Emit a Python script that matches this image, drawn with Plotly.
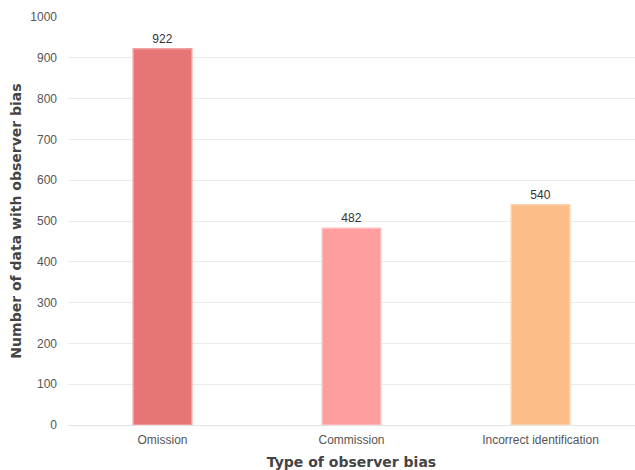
import plotly.graph_objects as go

categories = ["Omission", "Commission", "Incorrect identification"]
counts = [922, 482, 540]
bar_colors = ["#E87575", "#FF9E9E", "#FDBD89"]
edge_colors = ["#F4A0A0", "#FFC0C0", "#FDD3AE"]

fig = go.Figure(
    go.Bar(
        x=categories,
        y=counts,
        text=[str(v) for v in counts],
        textposition="outside",
        textfont=dict(family="Liberation Sans, Arial", size=12, color="#333333"),
        cliponaxis=False,
        marker=dict(color=bar_colors, line=dict(color=edge_colors, width=1.5)),
        hoverinfo="skip",
    )
)

fig.update_layout(
    width=635,
    height=470,
    margin=dict(l=68, r=0, t=17, b=45),
    paper_bgcolor="white",
    plot_bgcolor="white",
    bargap=0.69,
    showlegend=False,
    font=dict(family="Liberation Sans, Arial", size=12, color="#555555"),
)

fig.update_xaxes(
    showgrid=False,
    showline=False,
    ticks="",
    ticklabelstandoff=6,
    tickfont=dict(size=12, color="#555555"),
    title=dict(
        text="<b>Type of observer bias</b>",
        font=dict(family="DejaVu Sans", size=14, color="#444444"),
        standoff=12,
    ),
)

fig.update_yaxes(
    range=[0, 1000],
    dtick=100,
    showgrid=True,
    gridcolor="#ebebeb",
    gridwidth=1,
    zeroline=True,
    zerolinecolor="#e3e3e3",
    zerolinewidth=1,
    showline=False,
    ticks="",
    ticklabelstandoff=10,
    tickfont=dict(size=12, color="#555555"),
    title=dict(
        text="<b>Number of data with observer bias</b>",
        font=dict(family="DejaVu Sans", size=14, color="#444444"),
        standoff=5,
    ),
)

fig.write_html("out.html")
